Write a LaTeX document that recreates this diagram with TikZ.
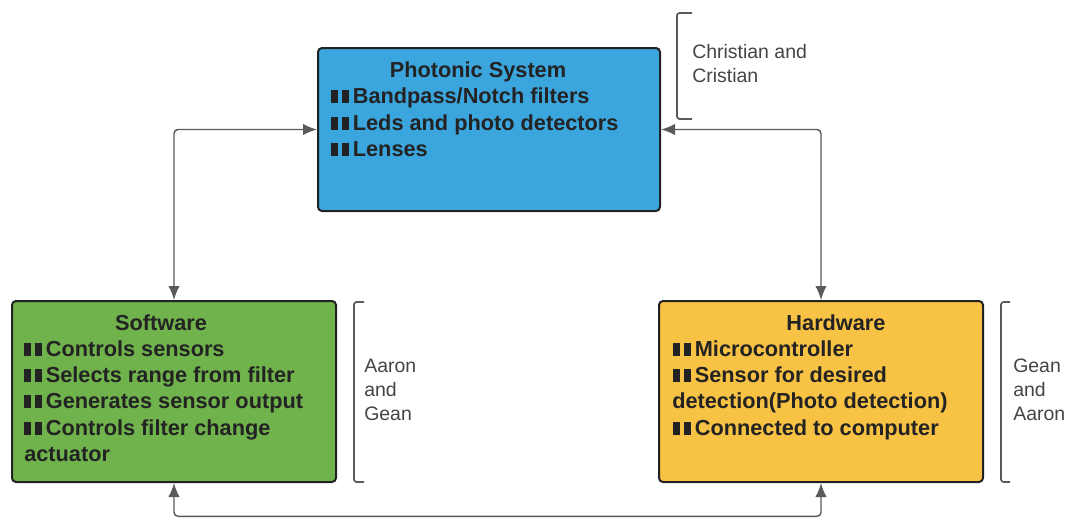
\documentclass[tikz,border=0pt]{standalone}
\usepackage{fontspec}
\setmainfont{Liberation Sans}
\usetikzlibrary{arrows.meta}
\definecolor{pblue}{HTML}{3BA5DD}
\definecolor{sgreen}{HTML}{70B24B}
\definecolor{hyellow}{HTML}{F8C244}
\definecolor{edgec}{HTML}{222222}
\definecolor{txtc}{HTML}{232323}
\definecolor{linec}{HTML}{5A5A5A}
\definecolor{sidec}{HTML}{444444}
\newcommand\bul{{\color{edgec}\rule{5.3pt}{9.6pt}\hspace{2.4pt}\rule{5.3pt}{9.6pt}}\hspace{3.2pt}}
\tikzset{
  box/.style={draw=edgec, line width=1.5pt, rounded corners=3pt, inner sep=0pt},
  ttl/.style={font=\bfseries\fontsize{16.3}{19.8}\selectfont, text=txtc, inner sep=0pt, anchor=base},
  itm/.style={font=\bfseries\fontsize{16.3}{19.8}\selectfont, text=txtc, inner sep=0pt, anchor=base west},
  side/.style={font=\fontsize{14.6}{18}\selectfont, text=sidec, inner sep=0pt, anchor=base west},
  conn/.style={draw=linec, line width=1.1pt, rounded corners=3pt, {Latex[length=10.5pt,width=8.5pt]}-{Latex[length=10.5pt,width=8.5pt]}},
  brk/.style={draw=linec, line width=1.3pt, rounded corners=2pt}
}
\begin{document}
\begin{tikzpicture}[x=0.75pt,y=-0.75pt]
\useasboundingbox (0,0) rectangle (1068,518);
% boxes
\node[box, fill=pblue, minimum width=256.5pt, minimum height=122.25pt] (ph) at (489,129.5) {};
\node[box, fill=sgreen, minimum width=243pt, minimum height=135.75pt] (sw) at (174,391.5) {};
\node[box, fill=hyellow, minimum width=243pt, minimum height=135.75pt] (hw) at (821,391.5) {};
% photonic text
\node[ttl] (pht) at (478,77) {Photonic System};
\node[itm] (ph1) at (331,103) {\bul Bandpass/Notch filters};
\node[itm] (ph2) at (331,130) {\bul Leds and photo detectors};
\node[itm] (ph3) at (331,156) {\bul Lenses};
% software text
\node[ttl] (swt) at (161,330) {Software};
\node[itm] (sw1) at (24,356) {\bul Controls sensors};
\node[itm] (sw2) at (24,382) {\bul Selects range from filter};
\node[itm] (sw3) at (24,408) {\bul Generates sensor output};
\node[itm] (sw4) at (24,435) {\bul Controls filter change};
\node[itm] (sw5) at (24,461) {actuator};
% hardware text
\node[ttl] (hwt) at (836,330) {Hardware};
\node[itm] (hw1) at (673,356) {\bul Microcontroller};
\node[itm] (hw2) at (673,382) {\bul Sensor for desired};
\node[itm] (hw3) at (672,408) {detection(Photo detection)};
\node[itm] (hw4) at (673,435) {\bul Connected to computer};
% side labels
\node[side] (c1) at (692,58) {Christian and};
\node[side] (c2) at (692,82) {Cristian};
\node[side] (a1) at (364,372) {Aaron};
\node[side] (a2) at (364,396) {and};
\node[side] (a3) at (364,420) {Gean};
\node[side] (g1) at (1013,372) {Gean};
\node[side] (g2) at (1013,396) {and};
\node[side] (g3) at (1013,420) {Aaron};
% brackets
\draw[brk] (692,13) -- (677,13) -- (677,119) -- (692,119);
\draw[brk] (364,302) -- (354,302) -- (354,482) -- (364,482);
\draw[brk] (1010,302) -- (1001,302) -- (1001,482) -- (1010,482);
% connectors
\coordinate (bot) at (0,516.3);
\draw[conn] (sw.north) |- (ph.west);
\draw[conn] (ph.east) -| (hw.north);
\draw[conn] (sw.south) -- (sw.south |- bot) -- (hw.south |- bot) -- (hw.south);
\end{tikzpicture}
\end{document}
